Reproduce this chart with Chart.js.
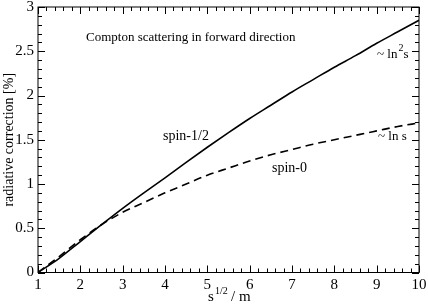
<!DOCTYPE html>
<html>
<head>
<meta charset="utf-8">
<script src="https://cdn.jsdelivr.net/npm/chart.js@4.4.1/dist/chart.umd.min.js"></script>
<style>
  html, body { margin: 0; padding: 0; background: #fff; }
  #wrap { width: 428px; height: 307px; }
</style>
</head>
<body>
<div id="wrap"><canvas id="compton"></canvas></div>
<script>
// sqrt(s)/m
var energies = [1, 1.5, 2, 2.5, 3, 3.5, 4, 4.5, 5, 5.5, 6, 6.5, 7, 7.5, 8, 8.5, 9, 9.5, 10];
// radiative correction [%]
var spinHalf = [0, 0.16, 0.35, 0.54, 0.725, 0.90, 1.07, 1.245, 1.415, 1.58, 1.74, 1.89, 2.04, 2.18, 2.32, 2.45, 2.59, 2.72, 2.85];
var spinZero = [0, 0.18, 0.37, 0.54, 0.68, 0.79, 0.90, 1.00, 1.10, 1.18, 1.26, 1.33, 1.39, 1.45, 1.50, 1.55, 1.60, 1.65, 1.69];
var xTicks = [1, 2, 3, 4, 5, 6, 7, 8, 9, 10];
var yTicks = ["0", "0.5", "1", "1.5", "2", "2.5", "3"];

var serif = "'Liberation Serif', 'DejaVu Serif', serif";

function points(ys) {
    return energies.map(function (x, i) { return { x: x, y: ys[i] }; });
}

// inward ticks on all four sides, frame box, and the text annotations
var decor = {
    id: 'decor',
    afterDraw: function (chart) {
        var c = chart.ctx, a = chart.chartArea;
        var sx = chart.scales.x, sy = chart.scales.y;
        c.save();
        c.strokeStyle = '#000';
        c.lineWidth = 1;
        c.strokeRect(a.left, a.top, a.right - a.left, a.bottom - a.top);
        c.beginPath();
        for (var i = 0; i <= 45; i++) {
            var v = 1 + i * 0.2;
            var px = Math.round(sx.getPixelForValue(v)) + 0.5;
            var len = (i % 5 === 0) ? 7 : 4;
            c.moveTo(px, a.bottom); c.lineTo(px, a.bottom - len);
            c.moveTo(px, a.top); c.lineTo(px, a.top + len);
        }
        for (var j = 0; j <= 30; j++) {
            var w = j * 0.1;
            var py = Math.round(sy.getPixelForValue(w)) + 0.5;
            var l2 = (j % 5 === 0) ? 7 : 4;
            c.moveTo(a.left, py); c.lineTo(a.left + l2, py);
            c.moveTo(a.right, py); c.lineTo(a.right - l2, py);
        }
        c.stroke();

        c.fillStyle = '#000';
        c.textBaseline = 'alphabetic';
        c.textAlign = 'left';
        c.font = '13px ' + serif;
        c.fillText('Compton scattering in forward direction', 86, 41);
        c.font = '14px ' + serif;
        c.fillText('spin-1/2', 163, 140);
        c.fillText('spin-0', 272, 172);
        // ~ ln^2 s
        c.font = '13px ' + serif;
        c.fillText('~ ln', 377, 58);
        var w1 = c.measureText('~ ln').width;
        c.font = '10px ' + serif;
        c.fillText('2', 377 + w1 + 1, 51);
        c.font = '13px ' + serif;
        c.fillText('s', 377 + w1 + 6, 58);
        c.fillText('~ ln s', 378, 140);

        // x axis title: s^{1/2} / m
        c.font = '15px ' + serif;
        c.fillText('s', 208, 301);
        c.font = '10px ' + serif;
        c.fillText('1/2', 215, 294);
        c.font = '15px ' + serif;
        c.fillText('/ m', 231, 301);

        // y axis title
        c.translate(13, (a.top + a.bottom) / 2);
        c.rotate(-Math.PI / 2);
        c.textAlign = 'center';
        c.font = '14px ' + serif;
        c.fillText('radiative correction [%]', 0, 0);
        c.restore();
    }
};

var chart = new Chart(document.getElementById('compton'), {
    type: 'line',
    data: {
        datasets: [
            {
                label: 'spin-1/2',
                data: points(spinHalf),
                borderColor: '#000',
                borderWidth: 1.6,
                pointRadius: 0,
                fill: false,
                cubicInterpolationMode: 'monotone'
            },
            {
                label: 'spin-0',
                data: points(spinZero),
                borderColor: '#000',
                borderWidth: 1.6,
                borderDash: [8, 5],
                pointRadius: 0,
                fill: false,
                cubicInterpolationMode: 'monotone'
            }
        ]
    },
    options: {
        responsive: true,
        maintainAspectRatio: false,
        animation: false,
        devicePixelRatio: 1,
        layout: { padding: { left: 0, right: 9, top: 7, bottom: 0 } },
        plugins: { legend: { display: false }, tooltip: { enabled: false } },
        scales: {
            x: {
                type: 'linear',
                min: 1,
                max: 10,
                afterBuildTicks: function (s) { s.ticks = xTicks.map(function (v) { return { value: v }; }); },
                afterFit: function (s) { s.height = 34.5; s.paddingLeft = 0; s.paddingRight = 0; },
                grid: { display: false, drawTicks: false },
                border: { display: false },
                ticks: { color: '#000', padding: 4, maxRotation: 0, font: { family: serif, size: 15 } }
            },
            y: {
                min: 0,
                max: 3,
                afterBuildTicks: function (s) { s.ticks = yTicks.map(function (v) { return { value: parseFloat(v) }; }); },
                afterFit: function (s) { s.width = 38; s.paddingTop = 0; s.paddingBottom = 0; },
                grid: { display: false, drawTicks: false },
                border: { display: false },
                ticks: {
                    color: '#000',
                    padding: 4,
                    font: { family: serif, size: 15 },
                    callback: function (v) { return String(v); }
                }
            }
        }
    },
    plugins: [decor]
});
</script>
</body>
</html>
